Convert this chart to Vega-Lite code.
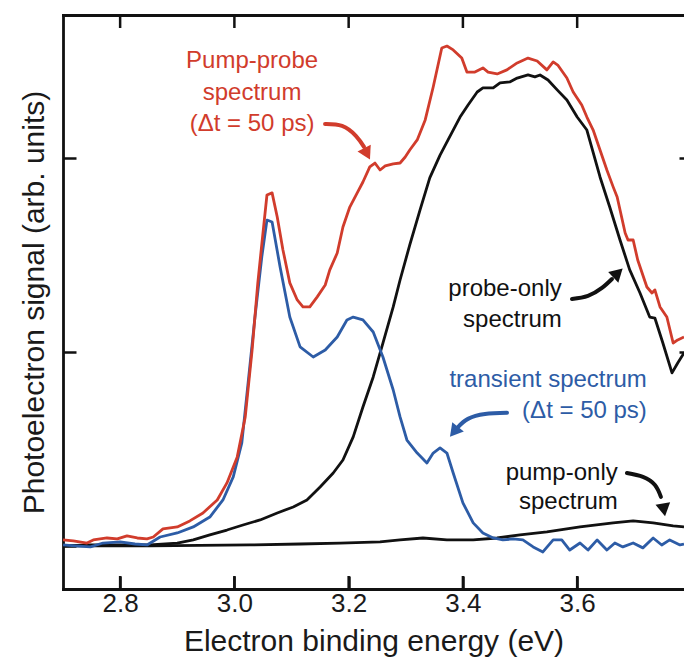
{
  "$schema": "https://vega.github.io/schema/vega-lite/v6.json",
  "width": 621,
  "height": 574,
  "autosize": {"type": "none"},
  "padding": {"left": 63, "top": 15, "right": 0, "bottom": 70},
  "background": "white",
  "config": {
    "view": {"stroke": null},
    "font": "Liberation Sans",
    "axis": {
      "grid": false,
      "domainColor": "#111111",
      "domainWidth": 2.8,
      "domainCap": "square",
      "tickColor": "#111111",
      "tickWidth": 2.5,
      "labelColor": "#1a1a1a",
      "labelFont": "Liberation Sans",
      "titleFont": "Liberation Sans",
      "titleColor": "#1a1a1a",
      "titleFontWeight": "normal"
    }
  },
  "datasets": {
    "xticks": [{"x": 2.8}, {"x": 3.0}, {"x": 3.2}, {"x": 3.4}, {"x": 3.6}],
    "curves": [
      {"s": "probe-only", "x": 2.700, "y": 0.0},
      {"s": "probe-only", "x": 2.748, "y": 0.005},
      {"s": "probe-only", "x": 2.800, "y": 0.005},
      {"s": "probe-only", "x": 2.852, "y": 0.005},
      {"s": "probe-only", "x": 2.900, "y": 0.015},
      {"s": "probe-only", "x": 2.928, "y": 0.031},
      {"s": "probe-only", "x": 2.957, "y": 0.057},
      {"s": "probe-only", "x": 2.987, "y": 0.082},
      {"s": "probe-only", "x": 3.015, "y": 0.108},
      {"s": "probe-only", "x": 3.045, "y": 0.134},
      {"s": "probe-only", "x": 3.075, "y": 0.170},
      {"s": "probe-only", "x": 3.103, "y": 0.201},
      {"s": "probe-only", "x": 3.127, "y": 0.237},
      {"s": "probe-only", "x": 3.150, "y": 0.304},
      {"s": "probe-only", "x": 3.173, "y": 0.376},
      {"s": "probe-only", "x": 3.190, "y": 0.443},
      {"s": "probe-only", "x": 3.208, "y": 0.562},
      {"s": "probe-only", "x": 3.225, "y": 0.716},
      {"s": "probe-only", "x": 3.243, "y": 0.871},
      {"s": "probe-only", "x": 3.260, "y": 1.046},
      {"s": "probe-only", "x": 3.278, "y": 1.232},
      {"s": "probe-only", "x": 3.290, "y": 1.371},
      {"s": "probe-only", "x": 3.307, "y": 1.552},
      {"s": "probe-only", "x": 3.325, "y": 1.732},
      {"s": "probe-only", "x": 3.342, "y": 1.897},
      {"s": "probe-only", "x": 3.360, "y": 2.015},
      {"s": "probe-only", "x": 3.374, "y": 2.093},
      {"s": "probe-only", "x": 3.395, "y": 2.211},
      {"s": "probe-only", "x": 3.409, "y": 2.273},
      {"s": "probe-only", "x": 3.425, "y": 2.340},
      {"s": "probe-only", "x": 3.435, "y": 2.361},
      {"s": "probe-only", "x": 3.453, "y": 2.361},
      {"s": "probe-only", "x": 3.465, "y": 2.387},
      {"s": "probe-only", "x": 3.482, "y": 2.392},
      {"s": "probe-only", "x": 3.495, "y": 2.412},
      {"s": "probe-only", "x": 3.514, "y": 2.428},
      {"s": "probe-only", "x": 3.526, "y": 2.418},
      {"s": "probe-only", "x": 3.535, "y": 2.428},
      {"s": "probe-only", "x": 3.549, "y": 2.402},
      {"s": "probe-only", "x": 3.565, "y": 2.351},
      {"s": "probe-only", "x": 3.582, "y": 2.299},
      {"s": "probe-only", "x": 3.600, "y": 2.211},
      {"s": "probe-only", "x": 3.617, "y": 2.144},
      {"s": "probe-only", "x": 3.640, "y": 1.902},
      {"s": "probe-only", "x": 3.657, "y": 1.747},
      {"s": "probe-only", "x": 3.675, "y": 1.577},
      {"s": "probe-only", "x": 3.692, "y": 1.423},
      {"s": "probe-only", "x": 3.710, "y": 1.304},
      {"s": "probe-only", "x": 3.727, "y": 1.180},
      {"s": "probe-only", "x": 3.736, "y": 1.175},
      {"s": "probe-only", "x": 3.750, "y": 1.046},
      {"s": "probe-only", "x": 3.766, "y": 0.892},
      {"s": "probe-only", "x": 3.776, "y": 0.943},
      {"s": "probe-only", "x": 3.787, "y": 0.995},

      {"s": "pump-only", "x": 2.700, "y": 0.0},
      {"s": "pump-only", "x": 2.852, "y": 0.0},
      {"s": "pump-only", "x": 3.027, "y": 0.005},
      {"s": "pump-only", "x": 3.115, "y": 0.010},
      {"s": "pump-only", "x": 3.185, "y": 0.015},
      {"s": "pump-only", "x": 3.255, "y": 0.021},
      {"s": "pump-only", "x": 3.290, "y": 0.031},
      {"s": "pump-only", "x": 3.330, "y": 0.041},
      {"s": "pump-only", "x": 3.372, "y": 0.031},
      {"s": "pump-only", "x": 3.418, "y": 0.031},
      {"s": "pump-only", "x": 3.460, "y": 0.041},
      {"s": "pump-only", "x": 3.500, "y": 0.057},
      {"s": "pump-only", "x": 3.547, "y": 0.072},
      {"s": "pump-only", "x": 3.605, "y": 0.098},
      {"s": "pump-only", "x": 3.663, "y": 0.119},
      {"s": "pump-only", "x": 3.698, "y": 0.129},
      {"s": "pump-only", "x": 3.733, "y": 0.119},
      {"s": "pump-only", "x": 3.768, "y": 0.103},
      {"s": "pump-only", "x": 3.787, "y": 0.098},

      {"s": "transient", "x": 2.700, "y": 0.005},
      {"s": "transient", "x": 2.721, "y": 0.0},
      {"s": "transient", "x": 2.748, "y": -0.005},
      {"s": "transient", "x": 2.770, "y": 0.015},
      {"s": "transient", "x": 2.800, "y": 0.021},
      {"s": "transient", "x": 2.826, "y": 0.010},
      {"s": "transient", "x": 2.847, "y": 0.005},
      {"s": "transient", "x": 2.870, "y": 0.046},
      {"s": "transient", "x": 2.900, "y": 0.067},
      {"s": "transient", "x": 2.928, "y": 0.098},
      {"s": "transient", "x": 2.957, "y": 0.149},
      {"s": "transient", "x": 2.980, "y": 0.237},
      {"s": "transient", "x": 2.998, "y": 0.356},
      {"s": "transient", "x": 3.013, "y": 0.531},
      {"s": "transient", "x": 3.024, "y": 0.840},
      {"s": "transient", "x": 3.036, "y": 1.180},
      {"s": "transient", "x": 3.048, "y": 1.490},
      {"s": "transient", "x": 3.057, "y": 1.680},
      {"s": "transient", "x": 3.066, "y": 1.670},
      {"s": "transient", "x": 3.080, "y": 1.438},
      {"s": "transient", "x": 3.097, "y": 1.180},
      {"s": "transient", "x": 3.115, "y": 1.026},
      {"s": "transient", "x": 3.138, "y": 0.974},
      {"s": "transient", "x": 3.159, "y": 1.010},
      {"s": "transient", "x": 3.180, "y": 1.077},
      {"s": "transient", "x": 3.197, "y": 1.165},
      {"s": "transient", "x": 3.208, "y": 1.180},
      {"s": "transient", "x": 3.225, "y": 1.165},
      {"s": "transient", "x": 3.243, "y": 1.103},
      {"s": "transient", "x": 3.260, "y": 0.974},
      {"s": "transient", "x": 3.278, "y": 0.804},
      {"s": "transient", "x": 3.290, "y": 0.665},
      {"s": "transient", "x": 3.302, "y": 0.546},
      {"s": "transient", "x": 3.320, "y": 0.479},
      {"s": "transient", "x": 3.337, "y": 0.428},
      {"s": "transient", "x": 3.348, "y": 0.479},
      {"s": "transient", "x": 3.360, "y": 0.505},
      {"s": "transient", "x": 3.372, "y": 0.479},
      {"s": "transient", "x": 3.383, "y": 0.376},
      {"s": "transient", "x": 3.400, "y": 0.222},
      {"s": "transient", "x": 3.418, "y": 0.119},
      {"s": "transient", "x": 3.435, "y": 0.067},
      {"s": "transient", "x": 3.453, "y": 0.041},
      {"s": "transient", "x": 3.470, "y": 0.031},
      {"s": "transient", "x": 3.488, "y": 0.036},
      {"s": "transient", "x": 3.505, "y": 0.031},
      {"s": "transient", "x": 3.523, "y": -0.005},
      {"s": "transient", "x": 3.540, "y": -0.031},
      {"s": "transient", "x": 3.558, "y": 0.031},
      {"s": "transient", "x": 3.573, "y": 0.031},
      {"s": "transient", "x": 3.587, "y": -0.021},
      {"s": "transient", "x": 3.605, "y": 0.015},
      {"s": "transient", "x": 3.619, "y": -0.021},
      {"s": "transient", "x": 3.635, "y": 0.031},
      {"s": "transient", "x": 3.652, "y": -0.021},
      {"s": "transient", "x": 3.666, "y": 0.015},
      {"s": "transient", "x": 3.680, "y": -0.005},
      {"s": "transient", "x": 3.698, "y": 0.015},
      {"s": "transient", "x": 3.715, "y": -0.010},
      {"s": "transient", "x": 3.733, "y": 0.041},
      {"s": "transient", "x": 3.748, "y": 0.005},
      {"s": "transient", "x": 3.762, "y": 0.031},
      {"s": "transient", "x": 3.780, "y": 0.005},
      {"s": "transient", "x": 3.787, "y": 0.010},

      {"s": "pump-probe", "x": 2.700, "y": 0.031},
      {"s": "pump-probe", "x": 2.718, "y": 0.026},
      {"s": "pump-probe", "x": 2.742, "y": 0.015},
      {"s": "pump-probe", "x": 2.753, "y": 0.031},
      {"s": "pump-probe", "x": 2.777, "y": 0.041},
      {"s": "pump-probe", "x": 2.795, "y": 0.036},
      {"s": "pump-probe", "x": 2.812, "y": 0.052},
      {"s": "pump-probe", "x": 2.830, "y": 0.041},
      {"s": "pump-probe", "x": 2.847, "y": 0.036},
      {"s": "pump-probe", "x": 2.858, "y": 0.046},
      {"s": "pump-probe", "x": 2.875, "y": 0.088},
      {"s": "pump-probe", "x": 2.900, "y": 0.098},
      {"s": "pump-probe", "x": 2.922, "y": 0.129},
      {"s": "pump-probe", "x": 2.945, "y": 0.170},
      {"s": "pump-probe", "x": 2.970, "y": 0.237},
      {"s": "pump-probe", "x": 2.987, "y": 0.325},
      {"s": "pump-probe", "x": 3.005, "y": 0.459},
      {"s": "pump-probe", "x": 3.019, "y": 0.665},
      {"s": "pump-probe", "x": 3.031, "y": 1.010},
      {"s": "pump-probe", "x": 3.041, "y": 1.356},
      {"s": "pump-probe", "x": 3.050, "y": 1.613},
      {"s": "pump-probe", "x": 3.057, "y": 1.809},
      {"s": "pump-probe", "x": 3.066, "y": 1.820},
      {"s": "pump-probe", "x": 3.075, "y": 1.696},
      {"s": "pump-probe", "x": 3.085, "y": 1.526},
      {"s": "pump-probe", "x": 3.097, "y": 1.356},
      {"s": "pump-probe", "x": 3.110, "y": 1.268},
      {"s": "pump-probe", "x": 3.120, "y": 1.232},
      {"s": "pump-probe", "x": 3.132, "y": 1.232},
      {"s": "pump-probe", "x": 3.145, "y": 1.284},
      {"s": "pump-probe", "x": 3.159, "y": 1.345},
      {"s": "pump-probe", "x": 3.167, "y": 1.423},
      {"s": "pump-probe", "x": 3.180, "y": 1.510},
      {"s": "pump-probe", "x": 3.190, "y": 1.644},
      {"s": "pump-probe", "x": 3.202, "y": 1.747},
      {"s": "pump-probe", "x": 3.215, "y": 1.820},
      {"s": "pump-probe", "x": 3.225, "y": 1.876},
      {"s": "pump-probe", "x": 3.237, "y": 1.954},
      {"s": "pump-probe", "x": 3.246, "y": 1.974},
      {"s": "pump-probe", "x": 3.255, "y": 1.938},
      {"s": "pump-probe", "x": 3.264, "y": 1.959},
      {"s": "pump-probe", "x": 3.278, "y": 1.969},
      {"s": "pump-probe", "x": 3.290, "y": 1.974},
      {"s": "pump-probe", "x": 3.299, "y": 2.005},
      {"s": "pump-probe", "x": 3.307, "y": 2.041},
      {"s": "pump-probe", "x": 3.320, "y": 2.093},
      {"s": "pump-probe", "x": 3.334, "y": 2.196},
      {"s": "pump-probe", "x": 3.348, "y": 2.366},
      {"s": "pump-probe", "x": 3.363, "y": 2.567},
      {"s": "pump-probe", "x": 3.372, "y": 2.577},
      {"s": "pump-probe", "x": 3.383, "y": 2.557},
      {"s": "pump-probe", "x": 3.398, "y": 2.515},
      {"s": "pump-probe", "x": 3.407, "y": 2.443},
      {"s": "pump-probe", "x": 3.421, "y": 2.443},
      {"s": "pump-probe", "x": 3.435, "y": 2.464},
      {"s": "pump-probe", "x": 3.444, "y": 2.443},
      {"s": "pump-probe", "x": 3.460, "y": 2.433},
      {"s": "pump-probe", "x": 3.477, "y": 2.454},
      {"s": "pump-probe", "x": 3.495, "y": 2.490},
      {"s": "pump-probe", "x": 3.514, "y": 2.515},
      {"s": "pump-probe", "x": 3.530, "y": 2.500},
      {"s": "pump-probe", "x": 3.547, "y": 2.454},
      {"s": "pump-probe", "x": 3.558, "y": 2.495},
      {"s": "pump-probe", "x": 3.566, "y": 2.479},
      {"s": "pump-probe", "x": 3.582, "y": 2.412},
      {"s": "pump-probe", "x": 3.593, "y": 2.340},
      {"s": "pump-probe", "x": 3.608, "y": 2.273},
      {"s": "pump-probe", "x": 3.617, "y": 2.211},
      {"s": "pump-probe", "x": 3.628, "y": 2.144},
      {"s": "pump-probe", "x": 3.640, "y": 2.041},
      {"s": "pump-probe", "x": 3.652, "y": 1.938},
      {"s": "pump-probe", "x": 3.663, "y": 1.851},
      {"s": "pump-probe", "x": 3.670, "y": 1.799},
      {"s": "pump-probe", "x": 3.684, "y": 1.613},
      {"s": "pump-probe", "x": 3.689, "y": 1.577},
      {"s": "pump-probe", "x": 3.698, "y": 1.577},
      {"s": "pump-probe", "x": 3.706, "y": 1.474},
      {"s": "pump-probe", "x": 3.722, "y": 1.335},
      {"s": "pump-probe", "x": 3.731, "y": 1.304},
      {"s": "pump-probe", "x": 3.736, "y": 1.320},
      {"s": "pump-probe", "x": 3.745, "y": 1.232},
      {"s": "pump-probe", "x": 3.757, "y": 1.180},
      {"s": "pump-probe", "x": 3.768, "y": 1.046},
      {"s": "pump-probe", "x": 3.776, "y": 1.062},
      {"s": "pump-probe", "x": 3.787, "y": 1.077}
    ],
    "labels": [
      {"g": "pump-probe", "t": "Pump-probe", "x": 3.031, "y": 2.464},
      {"g": "pump-probe", "t": "spectrum", "x": 3.031, "y": 2.299},
      {"g": "pump-probe", "t": "(Δt = 50 ps)", "x": 3.031, "y": 2.139},
      {"g": "probe-only", "t": "probe-only", "x": 3.573, "y": 1.289},
      {"g": "probe-only", "t": "spectrum", "x": 3.573, "y": 1.129},
      {"g": "transient", "t": "transient spectrum", "x": 3.722, "y": 0.820},
      {"g": "transient", "t": "(Δt = 50 ps)", "x": 3.722, "y": 0.660},
      {"g": "pump-only", "t": "pump-only", "x": 3.671, "y": 0.340},
      {"g": "pump-only", "t": "spectrum", "x": 3.671, "y": 0.191}
    ],
    "arrows": [
      {"g": "pump-probe", "i": 0, "x": 3.1587, "y": 2.175},
      {"g": "pump-probe", "i": 1, "x": 3.1885, "y": 2.165},
      {"g": "pump-probe", "i": 2, "x": 3.2130, "y": 2.113},
      {"g": "pump-probe", "i": 3, "x": 3.2269, "y": 2.057},
      {"g": "probe-only", "i": 0, "x": 3.5909, "y": 1.273},
      {"g": "probe-only", "i": 1, "x": 3.6189, "y": 1.289},
      {"g": "probe-only", "i": 2, "x": 3.6434, "y": 1.330},
      {"g": "probe-only", "i": 3, "x": 3.6609, "y": 1.376},
      {"g": "transient", "i": 0, "x": 3.4772, "y": 0.686},
      {"g": "transient", "i": 1, "x": 3.4387, "y": 0.680},
      {"g": "transient", "i": 2, "x": 3.4089, "y": 0.655},
      {"g": "transient", "i": 3, "x": 3.3914, "y": 0.613},
      {"g": "pump-only", "i": 0, "x": 3.6871, "y": 0.376},
      {"g": "pump-only", "i": 1, "x": 3.7151, "y": 0.356},
      {"g": "pump-only", "i": 2, "x": 3.7361, "y": 0.314},
      {"g": "pump-only", "i": 3, "x": 3.7466, "y": 0.253}
    ],
    "heads": [
      {"g": "pump-probe", "x": 3.2322, "y": 2.021},
      {"g": "probe-only", "x": 3.6714, "y": 1.407},
      {"g": "transient", "x": 3.3844, "y": 0.588},
      {"g": "pump-only", "x": 3.7519, "y": 0.186}
    ]
  },
  "resolve": {"axis": {"x": "independent", "y": "independent"}},
  "layer": [
    {
      "mark": {"type": "rule", "strokeDash": [12, 7], "color": "#444444", "strokeWidth": 1.5},
      "encoding": {
        "y": {"datum": 0, "type": "quantitative", "scale": {"domain": [-0.222, 2.737], "nice": false, "zero": false}, "axis": null}
      }
    },
    {
      "data": {"name": "curves"},
      "mark": {"type": "line", "strokeWidth": 2.8, "clip": true, "strokeJoin": "round"},
      "encoding": {
        "x": {"field": "x", "type": "quantitative", "scale": {"domain": [2.7, 3.787], "nice": false, "zero": false},
          "axis": {"orient": "bottom", "values": [2.8, 3.0, 3.2, 3.4, 3.6], "format": ".1f", "ticks": true, "tickSize": -13, "labelFontSize": 26, "labelPadding": 14, "title": "Electron binding energy (eV)", "titleFontSize": 30, "titlePadding": 10}},
        "y": {"field": "y", "type": "quantitative", "scale": {"domain": [-0.222, 2.737], "nice": false, "zero": false},
          "axis": {"orient": "left", "values": [0, 1, 2], "labels": false, "tickSize": -13, "title": "Photoelectron signal (arb. units)", "titleFontSize": 30, "titlePadding": 12}},
        "color": {"field": "s", "type": "nominal", "legend": null,
          "scale": {"domain": ["pump-probe", "probe-only", "transient", "pump-only"], "range": ["#d13c2c", "#111111", "#2d5ca6", "#111111"]}},
        "detail": {"field": "s"}
      }
    },
    {
      "data": {"name": "arrows"},
      "mark": {"type": "line", "strokeWidth": 4, "interpolate": "natural", "strokeCap": "round"},
      "encoding": {
        "x": {"field": "x", "type": "quantitative", "scale": {"domain": [2.7, 3.787], "nice": false, "zero": false},
          "axis": {"orient": "top", "values": [2.8, 3.0, 3.2, 3.4, 3.6], "labels": false, "ticks": false, "title": null}},
        "y": {"field": "y", "type": "quantitative", "scale": {"domain": [-0.222, 2.737], "nice": false, "zero": false},
          "axis": {"orient": "right", "values": [1, 2], "labels": false, "domain": false, "tickSize": -5, "title": null}},
        "color": {"field": "g", "type": "nominal", "legend": null},
        "detail": {"field": "g"},
        "order": {"field": "i", "type": "quantitative"}
      }
    },
    {
      "data": {"name": "xticks"},
      "mark": {"type": "rule", "color": "#111111", "strokeWidth": 2.5, "strokeCap": "butt", "opacity": 1},
      "encoding": {
        "x": {"field": "x", "type": "quantitative", "axis": null},
        "y": {"datum": -0.155, "type": "quantitative", "axis": null},
        "y2": {"datum": -0.2215}
      }
    },
    {
      "data": {"name": "xticks"},
      "mark": {"type": "rule", "color": "#111111", "strokeWidth": 2.5, "strokeCap": "butt", "opacity": 1},
      "encoding": {
        "x": {"field": "x", "type": "quantitative", "axis": null},
        "y": {"datum": 2.737, "type": "quantitative", "axis": null},
        "y2": {"datum": 2.67}
      }
    },
    {
      "data": {"name": "heads"},
      "transform": [{"filter": "datum.g === 'pump-probe'"}],
      "mark": {"type": "point", "shape": "triangle-up", "filled": true, "opacity": 1, "size": 220, "angle": 153},
      "encoding": {
        "x": {"field": "x", "type": "quantitative", "axis": null},
        "y": {"field": "y", "type": "quantitative", "axis": null},
        "color": {"field": "g", "type": "nominal", "legend": null}
      }
    },
    {
      "data": {"name": "heads"},
      "transform": [{"filter": "datum.g === 'probe-only'"}],
      "mark": {"type": "point", "shape": "triangle-up", "filled": true, "opacity": 1, "size": 220, "angle": 47},
      "encoding": {
        "x": {"field": "x", "type": "quantitative", "axis": null},
        "y": {"field": "y", "type": "quantitative", "axis": null},
        "color": {"field": "g", "type": "nominal", "legend": null}
      }
    },
    {
      "data": {"name": "heads"},
      "transform": [{"filter": "datum.g === 'transient'"}],
      "mark": {"type": "point", "shape": "triangle-up", "filled": true, "opacity": 1, "size": 220, "angle": 219},
      "encoding": {
        "x": {"field": "x", "type": "quantitative", "axis": null},
        "y": {"field": "y", "type": "quantitative", "axis": null},
        "color": {"field": "g", "type": "nominal", "legend": null}
      }
    },
    {
      "data": {"name": "heads"},
      "transform": [{"filter": "datum.g === 'pump-only'"}],
      "mark": {"type": "point", "shape": "triangle-up", "filled": true, "opacity": 1, "size": 220, "angle": 170},
      "encoding": {
        "x": {"field": "x", "type": "quantitative", "axis": null},
        "y": {"field": "y", "type": "quantitative", "axis": null},
        "color": {"field": "g", "type": "nominal", "legend": null}
      }
    },
    {
      "data": {"name": "labels"},
      "transform": [{"filter": "datum.g === 'pump-probe'"}],
      "mark": {"type": "text", "align": "center", "baseline": "alphabetic", "fontSize": 24, "font": "Liberation Sans"},
      "encoding": {
        "x": {"field": "x", "type": "quantitative", "axis": null},
        "y": {"field": "y", "type": "quantitative", "axis": null},
        "text": {"field": "t"},
        "color": {"field": "g", "type": "nominal", "legend": null}
      }
    },
    {
      "data": {"name": "labels"},
      "transform": [{"filter": "datum.g !== 'pump-probe'"}],
      "mark": {"type": "text", "align": "right", "baseline": "alphabetic", "fontSize": 24, "font": "Liberation Sans"},
      "encoding": {
        "x": {"field": "x", "type": "quantitative", "axis": null},
        "y": {"field": "y", "type": "quantitative", "axis": null},
        "text": {"field": "t"},
        "color": {"field": "g", "type": "nominal", "legend": null}
      }
    }
  ]
}
